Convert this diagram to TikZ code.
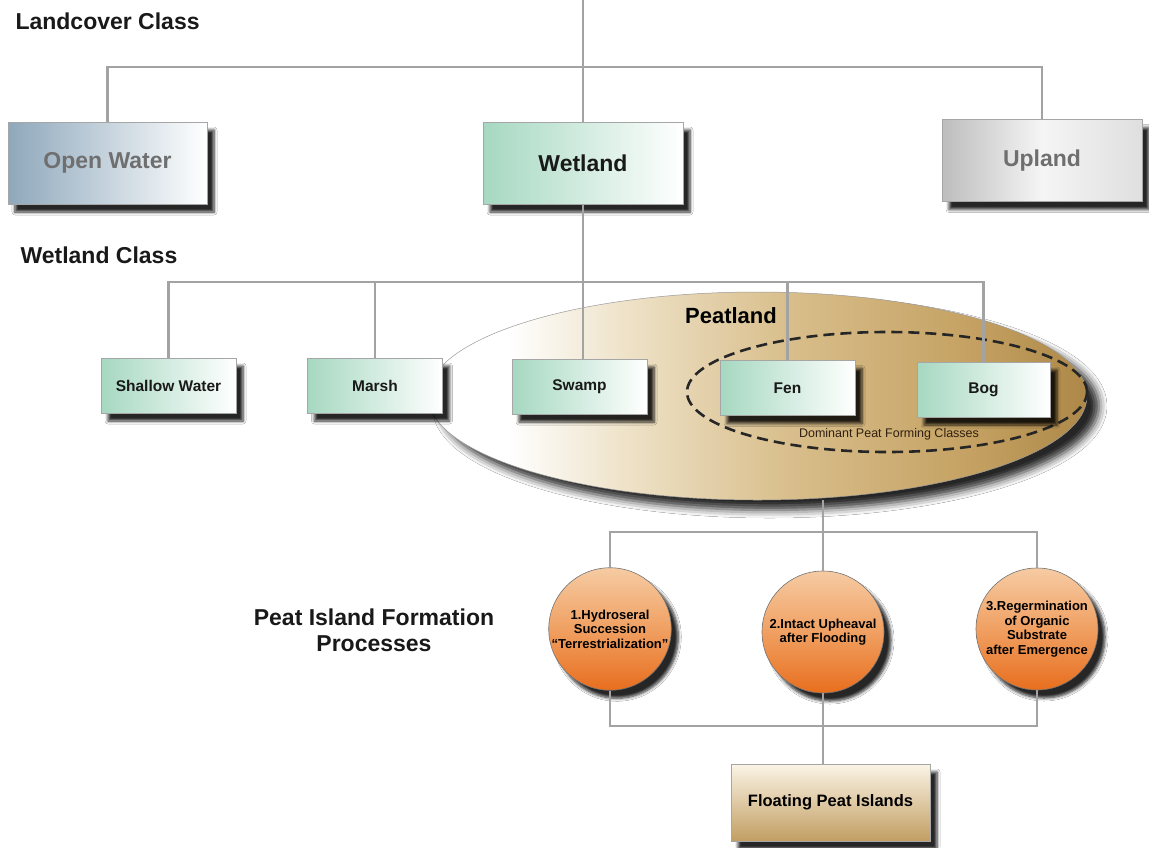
\documentclass[tikz,border=0pt]{standalone}
\usepackage{fontspec}
\setmainfont{Liberation Sans}
\usetikzlibrary{shapes.geometric,shadows.blur}

\definecolor{linkgray}{HTML}{A3A3A3}
\definecolor{mint}{HTML}{A6D8C1}
\definecolor{waterblue}{HTML}{8EA8BB}
\definecolor{uplandgray}{HTML}{BDBDBD}
\definecolor{labelgray}{HTML}{6F6F6F}
\definecolor{peatA}{HTML}{EEE2C8}
\definecolor{peatB}{HTML}{D9BF8D}
\definecolor{peatC}{HTML}{C5A263}
\definecolor{peatD}{HTML}{AD8848}
\definecolor{orangetop}{HTML}{F6CBA3}
\definecolor{orangemid}{HTML}{F0A062}
\definecolor{orangebot}{HTML}{E86E1E}
\definecolor{floattop}{HTML}{FBF4E6}
\definecolor{floatbot}{HTML}{C29E62}

\pgfdeclarehorizontalshading{peatfade}{100bp}{color(0bp)=(white); color(31bp)=(white);
  color(40bp)=(peatA); color(52bp)=(peatB); color(66bp)=(peatC); color(75bp)=(peatD);
  color(100bp)=(peatD)}

\tikzset{
  link/.style={draw=linkgray, line width=2.2pt},
  shadowed/.style={blur shadow={shadow xshift=7pt, shadow yshift=-8pt,
      shadow blur radius=3pt, shadow opacity=85, shadow blur steps=6}},
  classbox/.style={rectangle, draw=gray!70, line width=0.6pt, shadowed,
    left color=mint, right color=white, text=black!90,
    font=\bfseries\fontsize{23}{26}\selectfont,
    minimum width=200pt, minimum height=82pt},
  subbox/.style={classbox, font=\bfseries\fontsize{15.5}{18}\selectfont,
    minimum width=135pt, minimum height=55pt},
  process/.style={circle, draw=black!55, line width=0.6pt, shadowed,
    top color=orangetop, bottom color=orangebot, middle color=orangemid,
    minimum size=122pt, inner sep=0pt, align=center,
    font=\bfseries\fontsize{13}{14.5}\selectfont},
  heading/.style={font=\bfseries\fontsize{23}{26}\selectfont, text=black!90}
}

\begin{document}
\begin{tikzpicture}[x=1pt,y=-1pt]
\useasboundingbox[fill=white] (0,0) rectangle (1149,847);

% peatland ellipse and the dashed group inside it
\node[ellipse, draw=gray!80, line width=0.5pt, shade, shading=peatfade,
  minimum width=659pt, minimum height=208pt,
  blur shadow={shadow xshift=12pt, shadow yshift=-10pt, shadow blur radius=8pt,
    shadow opacity=85}] (peat) at (757.5,396) {};
\node[ellipse, draw=black!85, line width=2.6pt, dash pattern=on 11pt off 6pt,
  minimum width=400pt, minimum height=120pt] (dominant) at (887,392) {};
\node[font=\bfseries\fontsize{22}{24}\selectfont, anchor=base] (peatlabel) at (731,323) {Peatland};
\node[font=\fontsize{12.5}{14}\selectfont, text=black!75!brown, anchor=base] (domlabel)
  at (889,437) {Dominant Peat Forming Classes};

% headings
\node[heading, anchor=base west] (landcover) at (12,29) {Landcover Class};
\node[heading, anchor=base west] (wetclass) at (17,263) {Wetland Class};
\node[heading, align=center] (processes) at (374,630) {Peat Island Formation\\Processes};

% landcover classes
\node[classbox, left color=waterblue, right color=white, text=labelgray,
  minimum width=199pt] (open) at (107.5,163) {Open Water};
\node[classbox] (wetland) at (583,163) {Wetland};
\node[classbox, left color=uplandgray, right color=gray!25, middle color=gray!8,
  text=labelgray] (upland) at (1042,160.5) {Upland};

% wetland classes
\node[subbox] (shallow) at (168.5,385.5) {Shallow Water};
\node[subbox] (marsh) at (375,385.5) {Marsh};
\node[subbox] (swamp) at (579.5,386.5) {Swamp};
\node[subbox] (fen) at (787.5,388) {Fen};
\node[subbox, minimum width=133pt] (bog) at (983.5,389.5) {Bog};

% formation processes
\node[process] (hydro) at (610,629) {1.Hydroseral\\Succession\\“Terrestrialization”};
\node[process] (upheaval) at (823,632) {2.Intact Upheaval\\after Flooding};
\node[process] (regerm) at (1037,629) {3.Regermination\\of Organic\\Substrate\\after Emergence};

\node[rectangle, draw=gray!70, line width=0.6pt, shadowed,
  top color=floattop, bottom color=floatbot,
  minimum width=199pt, minimum height=77pt,
  font=\bfseries\fontsize{16.5}{18}\selectfont] (floating) at (830.5,802.5) {Floating Peat Islands};

% connectors
\coordinate (top) at (583,0);
\coordinate (bus1) at (583,67);
\coordinate (bus2) at (583,282);
\coordinate (bus3) at (823,532);
\coordinate (bus4) at (823,726);

\draw[link] (top) -- (wetland.north);
\draw[link] (open.north) |- (bus1) -| (upland.north);
\draw[link] (wetland.south) -- (wetland.south |- swamp.north);
\draw[link] (shallow.north) |- (bus2) -| (bog.north);
\draw[link] (marsh.north) -- (marsh.north |- bus2);
\draw[link] (fen.north) -- (fen.north |- bus2);

\draw[link] (upheaval.north |- peat.south) -- (upheaval.north);
\draw[link] (hydro.north) |- (bus3) -| (regerm.north);
\draw[link] (hydro.south) |- (bus4) -| (regerm.south);
\draw[link] (upheaval.south) -- (upheaval.south |- floating.north);
\end{tikzpicture}
\end{document}
